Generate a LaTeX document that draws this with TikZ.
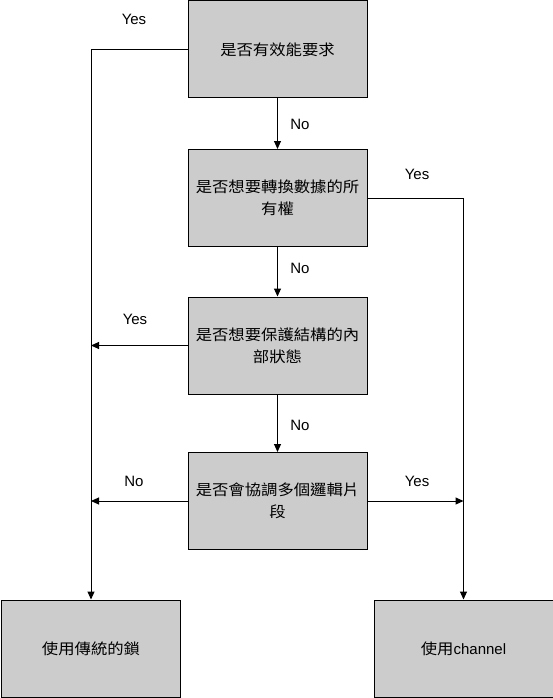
\documentclass[tikz,border=0pt]{standalone}
\usepackage{fontspec}
\setmainfont{Liberation Sans}
\newfontfamily\cjk[FakeStretch=1.09]{Noto Sans CJK TC}
\usetikzlibrary{arrows.meta}
\definecolor{boxgray}{RGB}{204,204,204}
\tikzset{
  box/.style={draw=black, line width=1pt, fill=boxgray, minimum width=179pt, minimum height=97pt,
    inner sep=0pt, align=center, text width=172pt, font=\fontsize{15}{22}\selectfont},
  lbl/.style={font=\fontsize{15}{18}\selectfont, inner sep=0pt},
  conn/.style={line width=1pt},
  arr/.style={line width=1pt, -{Triangle[width=7pt,length=8pt]}}
}
\begin{document}
\begin{tikzpicture}[x=1pt,y=-1pt]
\useasboundingbox (0,0) rectangle (553,698);
\node[box] (b1) at (277.5,49.5) {\cjk 是否有效能要求};
\node[box] (b2) at (277.5,198) {\cjk 是否想要轉換數據的所\\有權};
\node[box] (b3) at (277.5,345.5) {\cjk 是否想要保護結構的內\\部狀態};
\node[box] (b4) at (277.5,501) {\cjk 是否會協調多個邏輯片\\段};
\node[box] (b5) at (91,648.5) {{\cjk 使用傳統的鎖}};
\node[box] (b6) at (463.5,648.5) {{\cjk 使用}channel};

\draw[arr] (b1.west) -| (b5.north);
\draw[arr] (b2.east) -| (b6.north);
\draw[arr] (b1.south) -- (b2.north);
\draw[arr] (b2.south) -- (b3.north);
\draw[arr] (b3.south) -- (b4.north);
\draw[arr] (b3.west) -- (b3.west -| b5.north);
\draw[arr] (b4.west) -- (b4.west -| b5.north);
\draw[arr] (b4.east) -- (b4.east -| b6.north);

\node[lbl] (y1) at (134,19) {Yes};
\node[lbl] (y2) at (417,174) {Yes};
\node[lbl] (y3) at (135,319) {Yes};
\node[lbl] (n4) at (134,481) {No};
\node[lbl] (y4) at (417,481) {Yes};
\node[lbl] (n1) at (300,124) {No};
\node[lbl] (n2) at (300,268) {No};
\node[lbl] (n3) at (300,425) {No};
\end{tikzpicture}
\end{document}
